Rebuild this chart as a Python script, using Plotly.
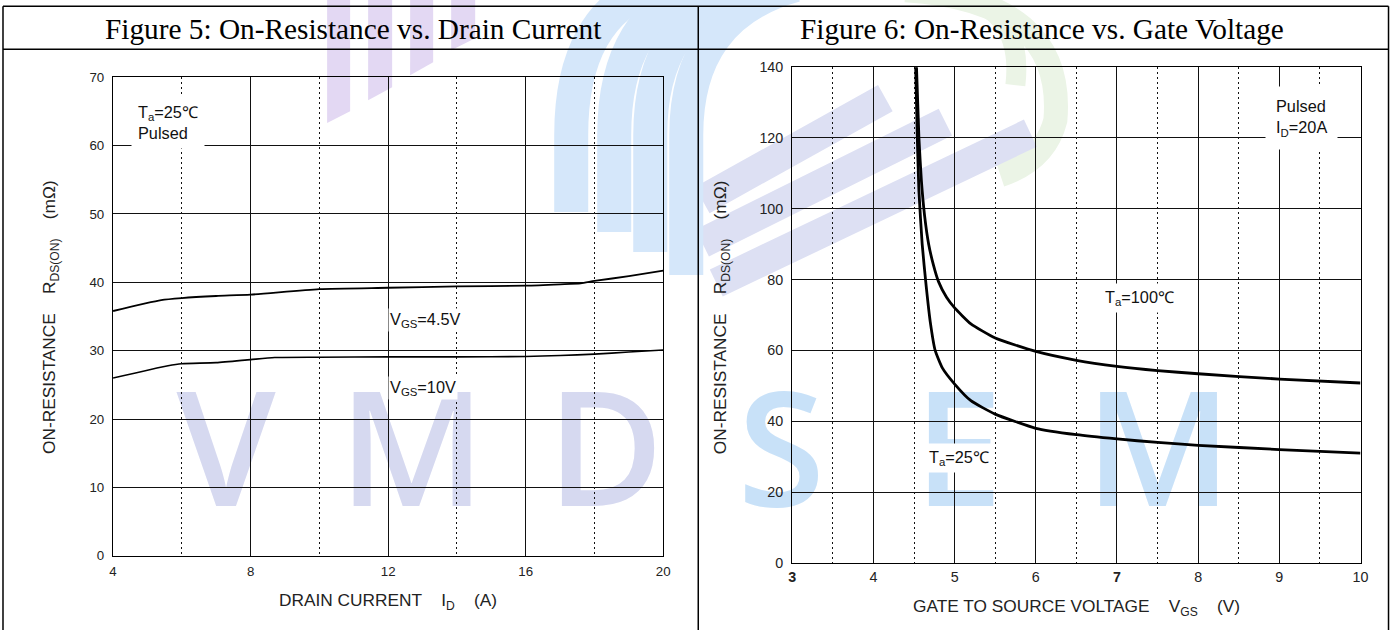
import plotly.graph_objects as go

W, H = 1391, 630
# The photographed page shows the figure scaled slightly and offset; compensate.
SX, AX = 0.991, 4.0
SY, OFF_Y = 630 / 646, 8
FS = 1.02

# ---------------- data ----------------
# Figure 5: On-resistance vs drain current
id_45 = [4, 5.4, 6, 7, 8, 10, 12, 14, 16, 17, 17.6, 18, 19, 20]
r_45 = [35.8, 37.4, 37.7, 38.0, 38.2, 39.0, 39.2, 39.4, 39.5, 39.7, 39.85, 40.2, 40.9, 41.7]
id_10 = [4, 5.6, 6, 7, 8, 8.7, 10, 12, 14, 16, 17, 18, 19, 20]
r_10 = [26.0, 27.8, 28.1, 28.25, 28.7, 29.0, 29.05, 29.1, 29.1, 29.15, 29.3, 29.5, 29.8, 30.1]

# Figure 6: On-resistance vs gate voltage
vgs_25 = [4.52, 4.54, 4.56, 4.60, 4.65, 4.70, 4.76, 4.85, 5.0, 5.2, 5.5, 6.0, 6.5, 7.0, 7.5, 8.0, 9.0, 10.0]
r_25 = [140, 120, 105, 90, 78, 68, 60, 55, 50.5, 45.8, 42, 38, 36.2, 35, 34, 33.2, 32.0, 31.0]
vgs_100 = [4.53, 4.56, 4.59, 4.63, 4.68, 4.74, 4.80, 4.90, 5.0, 5.2, 5.5, 6.0, 6.5, 7.0, 7.5, 8.0, 9.0, 10.0]
r_100 = [140, 120, 108, 98, 90, 84, 79.5, 75, 72, 67.5, 63.5, 59.7, 57.2, 55.5, 54.3, 53.4, 51.9, 50.8]

x6_ticks = [3, 4, 5, 6, 7, 8, 9, 10]
x6_ticktext = ["<b>3</b>", "4", "5", "6", "<b>7</b>", "8", "9", "10"]

titles = ["Figure 5: On-Resistance vs. Drain Current", "Figure 6: On-Resistance vs. Gate Voltage"]
watermark_left = ["V", "M", "D"]
watermark_right = ["S", "E", "M"]


def px(x):
    return ((x - AX) / SX) / W


def py(y):
    return 1 - (y / SY - OFF_Y) / H


def f(s):
    return round(s * FS, 1)


fig = go.Figure()

fig.add_trace(go.Scatter(x=id_45, y=r_45, mode="lines", line=dict(color="black", width=1.8, shape="spline", smoothing=0.6),
                         xaxis="x", yaxis="y", showlegend=False))
fig.add_trace(go.Scatter(x=id_10, y=r_10, mode="lines", line=dict(color="black", width=1.6, shape="spline", smoothing=0.6),
                         xaxis="x", yaxis="y", showlegend=False))
fig.add_trace(go.Scatter(x=vgs_25, y=r_25, mode="lines", line=dict(color="black", width=2.8, shape="spline", smoothing=0.5),
                         xaxis="x2", yaxis="y2", showlegend=False))
fig.add_trace(go.Scatter(x=vgs_100, y=r_100, mode="lines", line=dict(color="black", width=2.8, shape="spline", smoothing=0.5),
                         xaxis="x2", yaxis="y2", showlegend=False))

tickfont_l = dict(family="Liberation Sans, Arial, sans-serif", size=f(13), color="#222")
tickfont_r = dict(family="Liberation Sans, Arial, sans-serif", size=f(14), color="#222")
dotdash = "1.5px,3.5px"

common = dict(showline=True, mirror=True, linecolor="black", linewidth=1.4, zeroline=False,
              showgrid=True, gridcolor="#111", gridwidth=1.2, ticks="", ticklen=0)

fig.update_layout(
    width=W, height=H, margin=dict(l=0, r=0, t=0, b=0),
    paper_bgcolor="white", plot_bgcolor="rgba(0,0,0,0)",
    xaxis=dict(domain=[px(113), px(663)], range=[4, 20], tick0=4, dtick=4, tickfont=tickfont_l,
               ticklabelstandoff=3,
               minor=dict(dtick=2, tick0=4, showgrid=True, gridcolor="#111", gridwidth=1.3, griddash=dotdash),
               anchor="y", **common),
    yaxis=dict(domain=[py(556), py(77)], range=[0, 70], dtick=10, tickfont=tickfont_l,
               ticklabelstandoff=5, anchor="x", **common),
    xaxis2=dict(domain=[px(792), px(1360)], range=[3, 10], tickvals=x6_ticks, ticktext=x6_ticktext,
                tickfont=tickfont_r, ticklabelstandoff=1,
                minor=dict(dtick=0.5, tick0=3, showgrid=True, gridcolor="#111", gridwidth=1.3, griddash=dotdash),
                anchor="y2", **common),
    yaxis2=dict(domain=[py(563), py(67)], range=[0, 140], dtick=20, tickfont=tickfont_r,
                ticklabelstandoff=5, anchor="x2", **common),
)

shapes = []
# ---- watermark logo (background) ----
bars = [(327, 350, 123, 111), (368, 392, 100, 87), (410, 433, 75, 62), (451, 475, 50, 38)]
for x0, x1, yb0, yb1 in bars:
    shapes.append(dict(type="path", xref="paper", yref="paper", layer="below",
                       path=f"M {px(x0)},{py(-15)} L {px(x1)},{py(-15)} L {px(x1)},{py(yb1)} L {px(x0)},{py(yb0)} Z",
                       fillcolor="#e3d8f3", line=dict(width=0)))
# green arcs (faint)
for p, wdt in [([(905, -10), (1065, 0), (1055, 120), (1045, 160), (1000, 175)], 24),
               ([(935, -10), (1025, 0), (1015, 85), None, None], 20)]:
    d = f"M {px(p[0][0])},{py(p[0][1])} Q {px(p[1][0])},{py(p[1][1])} {px(p[2][0])},{py(p[2][1])}"
    if p[3] is not None:
        d += f" Q {px(p[3][0])},{py(p[3][1])} {px(p[4][0])},{py(p[4][1])}"
    shapes.append(dict(type="path", xref="paper", yref="paper", layer="below", path=d,
                       line=dict(color="#ebf4e6", width=wdt)))
# diagonal stripes in right panel
stripes = [(702, 200, 885, 98), (702, 243, 945, 122), (716, 283, 1030, 133)]
for xa, ya, xb, yb in stripes:
    shapes.append(dict(type="path", xref="paper", yref="paper", layer="below",
                       path=f"M {px(xa)},{py(ya)} L {px(xb)},{py(yb)}",
                       line=dict(color="#dde0f3", width=30)))
# blue arcs
arcs = [(571, 212, 655), (614, 232, 705), (650, 252, 750), (686, 275, 795)]
for xb, yb, xt in arcs:
    shapes.append(dict(type="path", xref="paper", yref="paper", layer="below",
                       path=f"M {px(xb)},{py(yb)} L {px(xb)},{py(135)} Q {px(xb)},{py(15)} {px(xt)},{py(-15)}",
                       line=dict(color="#d5e7fa", width=34)))

# watermark letters
letter_pos_l = [226, 412, 605]
letter_pos_r = [781, 958, 1158]
for chars, poss, col in [(watermark_left, letter_pos_l, "#d6d9f0"), (watermark_right, letter_pos_r, "#c8e1f8")]:
    for ch, cx in zip(chars, poss):
        shapes.append(dict(type="rect", xref="paper", yref="paper", layer="below",
                           x0=px(cx - 100), x1=px(cx + 100), y0=py(530), y1=py(380),
                           line=dict(width=0), fillcolor="rgba(0,0,0,0)",
                           label=dict(text=ch, textposition="middle center",
                                      font=dict(family="Open Sans, DejaVu Sans", size=f(156), color=col,
                                                weight=600))))

# ---- table frame ----
frame = dict(color="black", width=1.5)
shapes += [
    dict(type="line", xref="paper", yref="paper", x0=px(3), x1=px(1388), y0=py(6), y1=py(6), line=frame),
    dict(type="line", xref="paper", yref="paper", x0=px(3), x1=px(1388), y0=py(49), y1=py(49), line=frame),
    dict(type="line", xref="paper", yref="paper", x0=px(3), x1=px(3), y0=py(6), y1=py(660), line=frame),
    dict(type="line", xref="paper", yref="paper", x0=px(698), x1=px(698), y0=py(6), y1=py(660), line=frame),
    dict(type="line", xref="paper", yref="paper", x0=px(1388), x1=px(1388), y0=py(6), y1=py(660), line=frame),
]
fig.update_layout(shapes=shapes)

ann = []
C = dict(xanchor="center", yanchor="middle", showarrow=False, xref="paper", yref="paper")
titlefont = dict(family="Liberation Serif, Times New Roman, serif", size=29.3, color="black")
ann.append(dict(text=titles[0], x=px(353), y=py(29), font=titlefont, **C))
ann.append(dict(text=titles[1], x=px(1042), y=py(29), font=titlefont, **C))

axfont = dict(family="Liberation Sans, Arial, sans-serif", size=f(17), color="#222")
sp = "\u00a0" * 4
ytitle = f"ON-RESISTANCE{sp}R<sub>DS(ON)</sub>{sp}(mΩ)"
ann.append(dict(text=ytitle, x=px(51), y=py(317), textangle=-90, font=axfont, **C))
ann.append(dict(text=ytitle, x=px(722), y=py(317), textangle=-90, font=axfont, **C))
ann.append(dict(text=f"DRAIN CURRENT{sp}I<sub>D</sub>{sp}(A)", x=px(388), y=py(602), font=axfont, **C))
ann.append(dict(text=f"GATE TO SOURCE VOLTAGE{sp}V<sub>GS</sub>{sp}(V)", x=px(1076), y=py(608), font=axfont, **C))

lblfont = dict(family="Liberation Sans, Arial, sans-serif", size=f(16), color="#111")
ann.append(dict(text="T<sub>a</sub>=25℃<br>Pulsed", x=4.52, y=63.4, xref="x", yref="y", xanchor="left",
                yanchor="middle", align="left", showarrow=False, font=lblfont, bgcolor="white", borderpad=6))
ann.append(dict(text="V<sub>GS</sub>=4.5V", x=12.0, y=34.5, xref="x", yref="y", xanchor="left",
                yanchor="middle", showarrow=False, font=lblfont, bgcolor="white", borderpad=1))
ann.append(dict(text="V<sub>GS</sub>=10V", x=12.0, y=24.5, xref="x", yref="y", xanchor="left",
                yanchor="middle", showarrow=False, font=lblfont, bgcolor="white", borderpad=1))
ann.append(dict(text="Pulsed<br>I<sub>D</sub>=20A", x=9.27, y=125.6, xref="x2", yref="y2",
                xanchor="center", yanchor="middle",
                align="left", showarrow=False, font=lblfont, bgcolor="white", borderpad=10))
ann.append(dict(text="T<sub>a</sub>=100℃", x=7.28, y=74.8, xref="x2", yref="y2",
                xanchor="center", yanchor="middle",
                showarrow=False, font=lblfont, bgcolor="white", borderpad=4))
ann.append(dict(text="T<sub>a</sub>=25℃", x=5.05, y=29.6, xref="x2", yref="y2",
                xanchor="center", yanchor="middle",
                showarrow=False, font=lblfont, bgcolor="white", borderpad=4))
fig.update_layout(annotations=ann)

fig.write_html("out.html", config={"displayModeBar": False},
               post_script="document.body.style.margin='0px';document.body.style.overflow='hidden';")
